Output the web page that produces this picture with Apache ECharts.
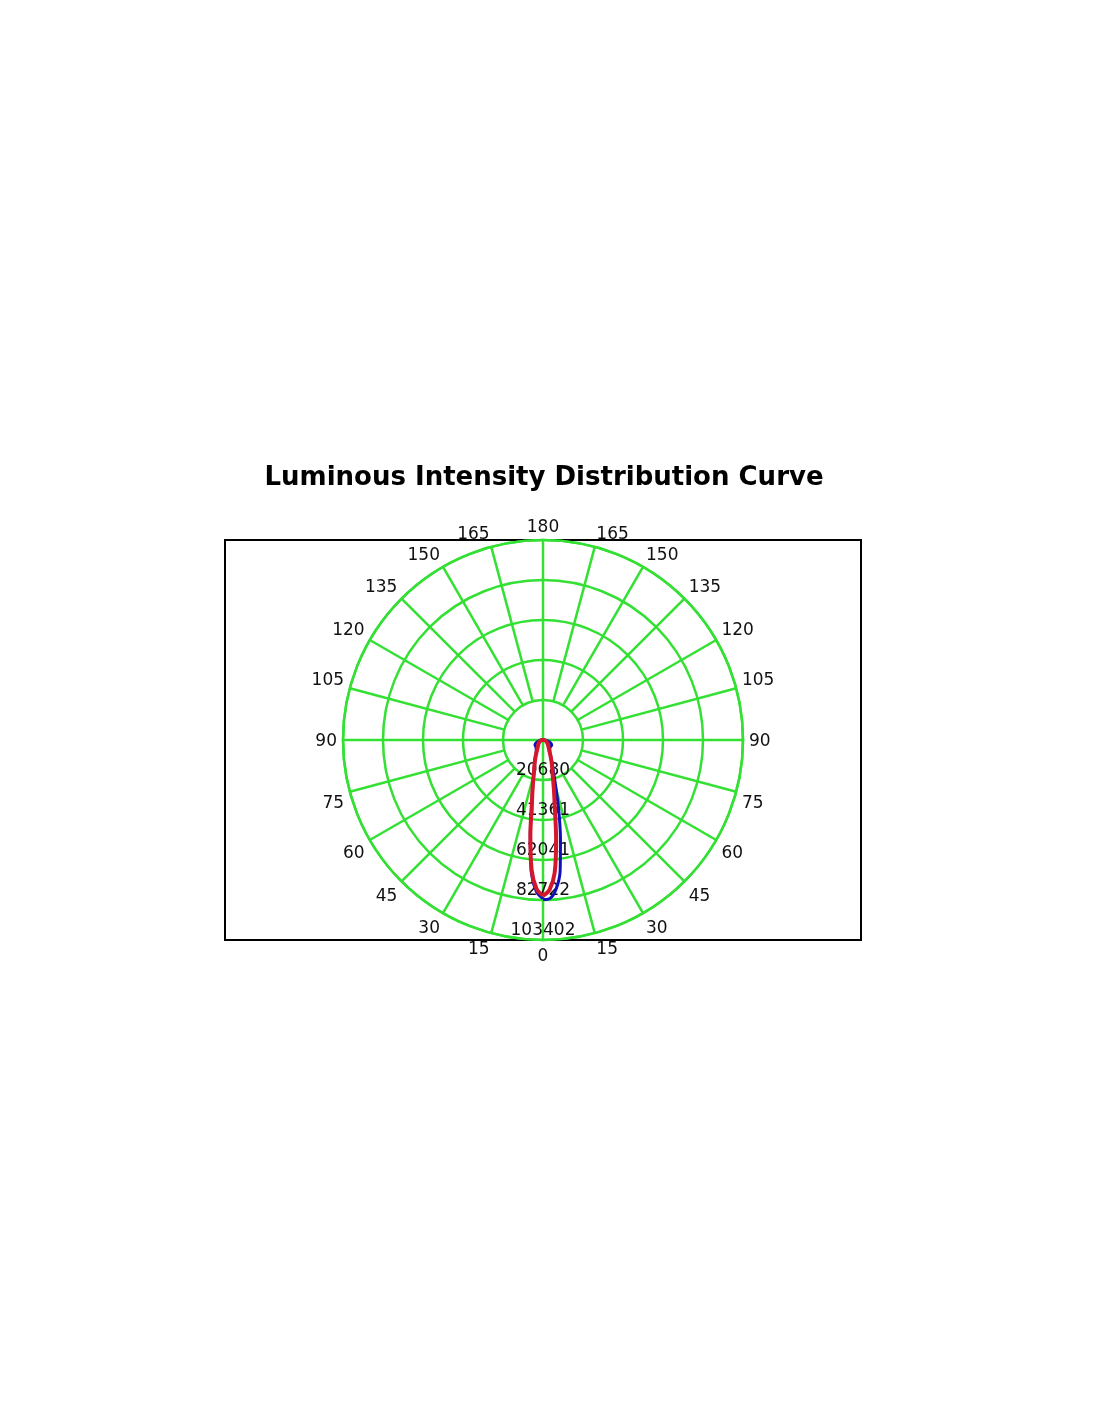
<!DOCTYPE html>
<html>
<head>
<meta charset="utf-8">
<script src="https://cdn.jsdelivr.net/npm/echarts@6/dist/echarts.min.js"></script>
<style>
html,body{margin:0;padding:0;background:#fff;}
#chart{width:1100px;height:1422px;}
</style>
</head>
<body>
<div id="chart"></div>
<script>
// ---- data ----
const titleText = 'Luminous Intensity Distribution Curve';
const maxIntensity = 103402;
const radiusTickLabels = [20680, 41361, 62041, 82722, 103402];
const angleStep = 15;
const angleTickLabels = [0, 15, 30, 45, 60, 75, 90, 105, 120, 135, 150, 165, 180, 165, 150, 135, 120, 105, 90, 75, 60, 45, 30, 15];
// gamma angles (deg from nadir)
const gammaAngles = [0, 2.5, 5, 7.5, 10, 12.5, 15, 20, 25, 30, 40, 50, 60, 70, 80, 90, 105, 120, 135, 150, 165, 180];
// C0-C180 plane (red): left half and right half intensities (cd)
const c0Values   = [80500, 77000, 67500, 50000, 33000, 24500, 18500, 12500, 8800, 6200, 4000, 3000, 2200, 1500, 900, 400, 100, 0, 0, 0, 0, 0];
const c180Values = [80500, 77500, 69000, 52000, 35000, 26000, 19500, 13500, 9300, 6600, 4300, 3200, 2300, 1600, 900, 400, 100, 0, 0, 0, 0, 0];
// C90-C270 plane (blue)
const c90Values  = [82000, 78500, 69000, 50500, 33500, 24500, 18500, 12800, 9200, 7000, 5500, 5000, 4800, 3500, 1800, 500, 100, 0, 0, 0, 0, 0];
const c270Values = [82500, 82000, 77500, 68000, 52000, 38000, 26000, 14500, 9500, 7000, 5500, 5200, 5200, 4000, 2000, 500, 100, 0, 0, 0, 0, 0];

const GREEN = '#33e033';
const TEXT = '#111';
const FONT = 'DejaVu Sans';

function planeData(leftVals, rightVals) {
  const d = [];
  for (let i = 0; i < gammaAngles.length; i++) d.push([leftVals[i], gammaAngles[i]]);
  for (let i = gammaAngles.length - 2; i >= 0; i--) d.push([rightVals[i], 360 - gammaAngles[i]]);
  return d;
}

const series = [];
// spokes
const step = maxIntensity / radiusTickLabels.length;
for (let a = 0; a < 360; a += angleStep) {
  const through = (a % 90 === 0);
  series.push({
    type: 'line', coordinateSystem: 'polar', silent: true, z: 1,
    showSymbol: false, symbol: 'none', animation: false,
    lineStyle: { color: GREEN, width: 2.5 },
    data: [[through ? 0 : step, a], [maxIntensity, a]]
  });
}
// angle labels (outside the outer ring)
const labelRadius = maxIntensity * 1.03;
series.push({
  type: 'scatter', coordinateSystem: 'polar', silent: true, z: 2, clip: false,
  symbolSize: 1, itemStyle: { color: 'rgba(0,0,0,0)', opacity: 1 }, animation: false,
  data: angleTickLabels.map((t, i) => {
    const a = i * angleStep;
    const rad = a * Math.PI / 180;
    const dx = -Math.sin(rad), dy = Math.cos(rad);
    return {
      value: [labelRadius, a, t],
      label: {
        show: true, position: 'inside', offset: [0, 2],
        align: Math.abs(dx) < 0.01 ? 'center' : (dx < 0 ? 'right' : 'left'),
        verticalAlign: Math.abs(dy) < 0.01 ? 'middle' : (dy > 0 ? 'top' : 'bottom'),
        fontFamily: FONT, fontSize: 17, color: TEXT,
        formatter: String(t)
      }
    };
  })
});
// radius labels
series.push({
  type: 'scatter', coordinateSystem: 'polar', silent: true, z: 2,
  symbolSize: 1, itemStyle: { color: 'rgba(0,0,0,0)', opacity: 1 }, animation: false,
  label: {
    show: true, position: 'inside', offset: [0, -9.5],
    fontFamily: FONT, fontSize: 17, color: TEXT,
    formatter: p => String(p.value[2])
  },
  data: radiusTickLabels.map((v, i) => [step * (i + 1), 0, v])
});
// curves
series.push({
  type: 'line', coordinateSystem: 'polar', z: 3, name: 'C90-C270',
  showSymbol: false, smooth: 0.35, animation: false,
  lineStyle: { color: '#1010b8', width: 3 },
  data: planeData(c90Values, c270Values)
});
series.push({
  type: 'line', coordinateSystem: 'polar', z: 4, name: 'C0-C180',
  showSymbol: false, smooth: 0.35, animation: false,
  lineStyle: { color: '#d4172c', width: 4 },
  data: planeData(c0Values, c180Values)
});

const chart = echarts.init(document.getElementById('chart'), null, { renderer: 'canvas' });
chart.setOption({
  backgroundColor: '#fff',
  animation: false,
  polar: { center: [543, 740], radius: 200 },
  angleAxis: {
    type: 'value', min: 0, max: 360, interval: angleStep,
    startAngle: -90, clockwise: true,
    axisLine: { show: true, lineStyle: { color: GREEN, width: 2.5 } },
    axisTick: { show: false },
    splitLine: { show: false },
    axisLabel: { show: false }
  },
  radiusAxis: {
    type: 'value', min: 0, max: maxIntensity, interval: step,
    axisLine: { show: false }, axisTick: { show: false }, axisLabel: { show: false },
    splitLine: { show: true, lineStyle: { color: GREEN, width: 2.5 } }
  },
  graphic: [
    { type: 'rect', z: 0, shape: { x: 225, y: 540, width: 636, height: 400 },
      style: { fill: 'none', stroke: '#000', lineWidth: 2 } },
    { type: 'text', x: 544, y: 478,
      style: { text: titleText, align: 'center', verticalAlign: 'middle',
        font: 'bold 26px "DejaVu Sans"', fill: '#000' } }
  ],
  series: series
});
</script>
</body>
</html>
